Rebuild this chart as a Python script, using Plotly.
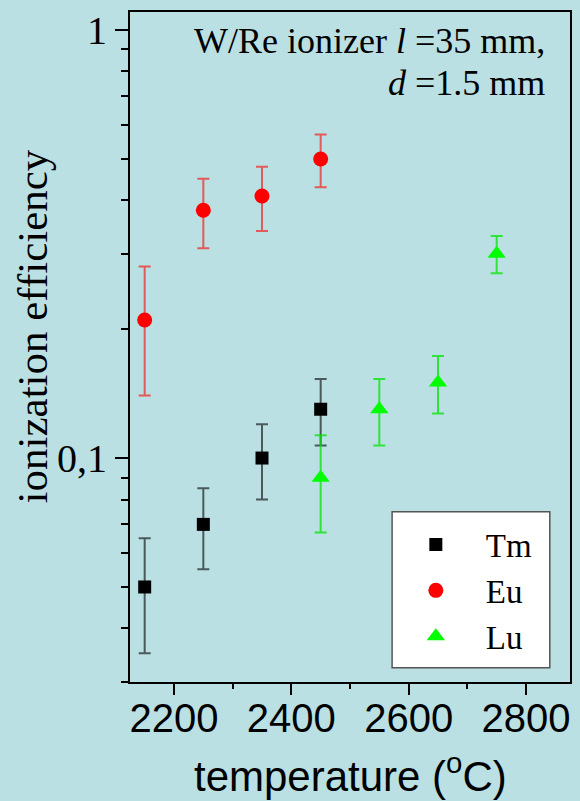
import math
import plotly.graph_objects as go

# ---- data ----
temp_tm = [2150, 2250, 2350, 2450]
eff_tm = [0.050, 0.070, 0.100, 0.130]
err_tm = [0.015, 0.015, 0.020, 0.023]

temp_eu = [2150, 2250, 2350, 2450]
eff_eu = [0.210, 0.379, 0.409, 0.499]
err_eu = [0.070, 0.070, 0.070, 0.070]

temp_lu = [2450, 2550, 2650, 2750]
eff_lu = [0.090, 0.130, 0.150, 0.300]
err_lu = [0.023, 0.023, 0.023, 0.030]

x_tickvals = [2200, 2400, 2600, 2800]
x_minor = [2300, 2500, 2700]
y_tickvals = [0.1, 1]
y_ticktext = ["0,1", "1"]
y_minor = [0.03, 0.04, 0.05, 0.06, 0.07, 0.08, 0.09,
           0.2, 0.3, 0.4, 0.5, 0.6, 0.7, 0.8, 0.9]

# ---- geometry ----
W, H = 580, 801
ML, MR, MT, MB = 130, 8, 12, 119
PW, PH = W - ML - MR, H - MT - MB
BG = "#bae0e3"
SERIF = "Liberation Serif, Times New Roman, serif"
SANS = "Liberation Sans, Arial, sans-serif"
X_RANGE = [2125, 2875]


def px(xp):
    return (xp - ML) / PW


def py(yp):
    return (H - MB - yp) / PH


fig = go.Figure()
fig.add_trace(go.Scatter(
    x=temp_tm, y=eff_tm, mode="markers", name="Tm",
    marker=dict(symbol="square", size=13, color="black"),
    error_y=dict(type="data", array=err_tm, color="rgba(0,0,0,0.6)",
                 thickness=2, width=6)))
fig.add_trace(go.Scatter(
    x=temp_eu, y=eff_eu, mode="markers", name="Eu",
    marker=dict(symbol="circle", size=15, color="#ff0000"),
    error_y=dict(type="data", array=err_eu, color="rgba(255,0,0,0.6)",
                 thickness=2, width=6)))
fig.add_trace(go.Scatter(
    x=temp_lu, y=eff_lu, mode="markers", name="Lu",
    marker=dict(symbol="triangle-up", size=16, color="#00ff00"),
    error_y=dict(type="data", array=err_lu, color="rgba(0,230,0,0.75)",
                 thickness=2, width=6)))
# empty trace so that the tick-mark axis (x2) is rendered
fig.add_trace(go.Scatter(x=[], y=[], xaxis="x2", yaxis="y",
                         showlegend=False, hoverinfo="skip"))

fig.update_layout(
    width=W, height=H,
    margin=dict(l=ML, r=MR, t=MT, b=MB, pad=0),
    paper_bgcolor=BG, plot_bgcolor=BG,
    showlegend=True,
    legend=dict(x=px(387), y=py(516.5), xanchor="left", yanchor="top",
                bgcolor="rgba(0,0,0,0)", borderwidth=0,
                font=dict(family=SERIF, size=33, color="black"),
                itemwidth=90),
    # labelled x axis (tick marks are drawn by the overlaid xaxis2)
    xaxis=dict(range=X_RANGE, showgrid=False, zeroline=False,
               showline=True, linecolor="black", linewidth=2, mirror=True,
               ticks="", tickmode="array", tickvals=x_tickvals,
               tickfont=dict(family=SANS, size=40, color="black")),
    xaxis2=dict(range=X_RANGE, overlaying="x", anchor="y", side="bottom",
                showgrid=False, zeroline=False, showline=False,
                showticklabels=False,
                ticks="outside", ticklen=12, tickwidth=2, tickcolor="black",
                tickmode="array", tickvals=x_tickvals,
                minor=dict(tickmode="array", tickvals=x_minor, ticks="outside",
                           ticklen=6, tickwidth=2, tickcolor="black")),
    yaxis=dict(type="log", range=[math.log10(0.03), math.log10(1.1)],
               showgrid=False, zeroline=False,
               showline=True, linecolor="black", linewidth=2, mirror=True,
               ticks="outside", ticklen=13, tickwidth=2, tickcolor="black",
               tickmode="array", tickvals=y_tickvals, ticktext=y_ticktext,
               tickfont=dict(family=SERIF, size=40, color="black"),
               minor=dict(tickmode="array", tickvals=y_minor, ticks="outside",
                          ticklen=7, tickwidth=2, tickcolor="black")),
    shapes=[dict(type="rect", xref="paper", yref="paper",
                 x0=px(393.3), x1=px(551.7), y0=py(667.7), y1=py(511.7),
                 fillcolor="white", line=dict(color="#555555", width=1.5),
                 layer="below")],
    annotations=[
        dict(text="W/Re ionizer <i>l</i> =35 mm,", xref="paper", yref="paper",
             x=px(549), y=py(41), xanchor="right", yanchor="middle",
             showarrow=False, font=dict(family=SERIF, size=36, color="black")),
        dict(text="<i>d</i> =1.5 mm", xref="paper", yref="paper",
             x=px(549), y=py(82.5), xanchor="right", yanchor="middle",
             showarrow=False, font=dict(family=SERIF, size=36, color="black")),
        dict(text="ionization efficiency", xref="paper", yref="paper",
             x=px(33), y=py(326), xanchor="center", yanchor="middle",
             textangle=-90, showarrow=False,
             font=dict(family=SERIF, size=43, color="black")),
        dict(text="temperature (<sup>o</sup>C)", xref="paper", yref="paper",
             x=px(352), y=py(773), xanchor="center", yanchor="middle",
             showarrow=False, font=dict(family=SANS, size=42, color="black")),
    ],
)

fig.write_html("out.html")
